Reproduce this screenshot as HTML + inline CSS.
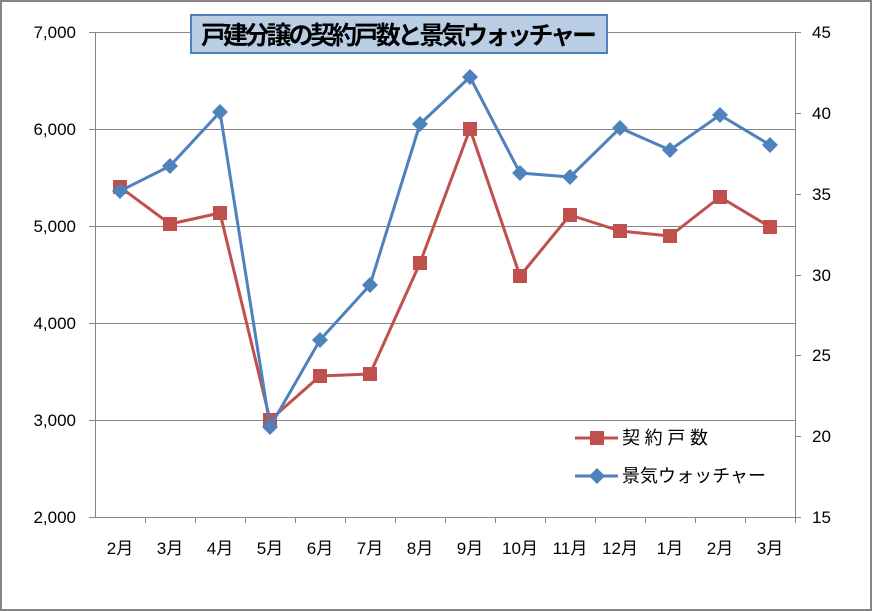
<!DOCTYPE html>
<html><head><meta charset="utf-8"><style>
html,body{margin:0;padding:0;background:#fff}
svg{display:block}
text{font-family:"Liberation Sans","Noto Sans CJK JP",sans-serif;fill:#000}
</style></head><body>
<svg width="873" height="612" xmlns="http://www.w3.org/2000/svg">
<rect x="0" y="0" width="873" height="612" fill="#fff"/>
<rect x="1" y="1" width="870" height="609" fill="none" stroke="#868686" stroke-width="2"/>
<g stroke="#868686" stroke-width="1">
<line x1="95" y1="32.5" x2="795" y2="32.5"/>
<line x1="95" y1="129.5" x2="795" y2="129.5"/>
<line x1="95" y1="226.5" x2="795" y2="226.5"/>
<line x1="95" y1="323.5" x2="795" y2="323.5"/>
<line x1="95" y1="420.5" x2="795" y2="420.5"/>
<line x1="95" y1="517.5" x2="795" y2="517.5"/>
<line x1="95.5" y1="32" x2="95.5" y2="517"/>
<line x1="795.5" y1="32" x2="795.5" y2="517"/>
<line x1="89" y1="32.5" x2="95" y2="32.5"/><line x1="89" y1="129.5" x2="95" y2="129.5"/><line x1="89" y1="226.5" x2="95" y2="226.5"/><line x1="89" y1="323.5" x2="95" y2="323.5"/><line x1="89" y1="420.5" x2="95" y2="420.5"/><line x1="89" y1="517.5" x2="95" y2="517.5"/>
<line x1="795" y1="32.5" x2="801" y2="32.5"/><line x1="795" y1="113.5" x2="801" y2="113.5"/><line x1="795" y1="194.5" x2="801" y2="194.5"/><line x1="795" y1="275.5" x2="801" y2="275.5"/><line x1="795" y1="355.5" x2="801" y2="355.5"/><line x1="795" y1="436.5" x2="801" y2="436.5"/><line x1="795" y1="517.5" x2="801" y2="517.5"/>
<path d="M145.5 517v6M195.5 517v6M245.5 517v6M295.5 517v6M345.5 517v6M395.5 517v6M445.5 517v6M495.5 517v6M545.5 517v6M595.5 517v6M645.5 517v6M695.5 517v6M745.5 517v6M795.5 517v6"/>
</g>
<g font-size="17" text-anchor="end">
<text x="76" y="38">7,000</text><text x="76" y="135">6,000</text><text x="76" y="232">5,000</text><text x="76" y="329">4,000</text><text x="76" y="426">3,000</text><text x="76" y="523">2,000</text>
</g>
<g font-size="17">
<text x="812" y="38">45</text><text x="812" y="119">40</text><text x="812" y="200">35</text><text x="812" y="281">30</text><text x="812" y="361">25</text><text x="812" y="442">20</text><text x="812" y="523">15</text>
</g>
<g font-size="17" text-anchor="middle">
<text x="120" y="554">2月</text><text x="170" y="554">3月</text><text x="220" y="554">4月</text><text x="270" y="554">5月</text><text x="320" y="554">6月</text><text x="370" y="554">7月</text><text x="420" y="554">8月</text><text x="470" y="554">9月</text><text x="520" y="554">10月</text><text x="570" y="554">11月</text><text x="620" y="554">12月</text><text x="670" y="554">1月</text><text x="720" y="554">2月</text><text x="770" y="554">3月</text>
</g>
<polyline fill="none" stroke="#c0504d" stroke-width="3" stroke-linejoin="round" points="120,187 170,224 220,213 270,420 320,376 370,374 420,263 470,129 520,276 570,215 620,231 670,236 720,197 770,227"/>
<g fill="#c0504d">
<rect x="113" y="180" width="14" height="14"/><rect x="163" y="217" width="14" height="14"/><rect x="213" y="206" width="14" height="14"/><rect x="263" y="413" width="14" height="14"/><rect x="313" y="369" width="14" height="14"/><rect x="363" y="367" width="14" height="14"/><rect x="413" y="256" width="14" height="14"/><rect x="463" y="122" width="14" height="14"/><rect x="513" y="269" width="14" height="14"/><rect x="563" y="208" width="14" height="14"/><rect x="613" y="224" width="14" height="14"/><rect x="663" y="229" width="14" height="14"/><rect x="713" y="190" width="14" height="14"/><rect x="763" y="220" width="14" height="14"/>
</g>
<polyline fill="none" stroke="#4f81bd" stroke-width="3" stroke-linejoin="round" points="120,191 170,166 220,112 270,427 320,340 370,285 420,124 470,77 520,173 570,177 620,128 670,150 720,115 770,145"/>
<g fill="#4f81bd">
<path d="M120 183l8 8-8 8-8-8z"/><path d="M170 158l8 8-8 8-8-8z"/><path d="M220 104l8 8-8 8-8-8z"/><path d="M270 419l8 8-8 8-8-8z"/><path d="M320 332l8 8-8 8-8-8z"/><path d="M370 277l8 8-8 8-8-8z"/><path d="M420 116l8 8-8 8-8-8z"/><path d="M470 69l8 8-8 8-8-8z"/><path d="M520 165l8 8-8 8-8-8z"/><path d="M570 169l8 8-8 8-8-8z"/><path d="M620 120l8 8-8 8-8-8z"/><path d="M670 142l8 8-8 8-8-8z"/><path d="M720 107l8 8-8 8-8-8z"/><path d="M770 137l8 8-8 8-8-8z"/>
</g>
<line x1="575" y1="438" x2="618" y2="438" stroke="#c0504d" stroke-width="3"/>
<rect x="590" y="431" width="14" height="14" fill="#c0504d"/>
<text x="622" y="444" font-size="18" textLength="86">契約戸数</text>
<line x1="575" y1="476" x2="618" y2="476" stroke="#4f81bd" stroke-width="3"/>
<path d="M597 468l8 8-8 8-8-8z" fill="#4f81bd"/>
<text x="622" y="482" font-size="18" textLength="144">景気ウォッチャー</text>
<rect x="191" y="15" width="416" height="38" fill="#b9cde5" stroke="#4f81bd" stroke-width="2"/>
<text x="399" y="44" font-size="25" font-weight="bold" text-anchor="middle" textLength="396">戸建分譲の契約戸数と景気ウォッチャー</text>
</svg>
</body></html>
